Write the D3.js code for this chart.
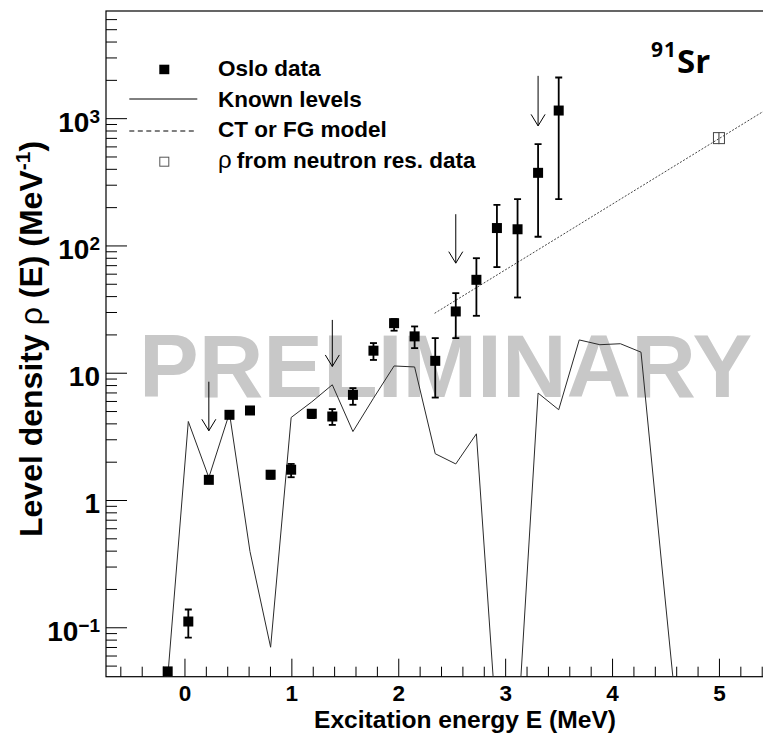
<!DOCTYPE html>
<html>
<head>
<meta charset="utf-8">
<script src="https://cdn.jsdelivr.net/npm/d3@7"></script>
<style>
  html, body { margin: 0; padding: 0; background: #fff; }
  svg { display: block; }
  text { font-family: "Liberation Sans", Arial, Helvetica, sans-serif; font-weight: bold; fill: #000; }
</style>
</head>
<body>
<svg id="chart" width="763" height="746"></svg>
<script>
// Excitation energies of the bins (MeV)
const energy = [-0.157, 0.036, 0.228, 0.421, 0.613, 0.806, 0.998, 1.191, 1.383, 1.576,
                1.768, 1.961, 2.153, 2.346, 2.538, 2.731, 2.923, 3.116, 3.308, 3.501];
// Oslo-method level density with its error band (MeV^-1)
const osloRho  = [0.045, 0.111, 1.44, 4.67, 5.05, 1.58, 1.73, 4.76, 4.53, 6.70,
                  14.9, 24.5, 19.3, 12.4, 30.3, 53.7, 137, 134, 372, 1148];
const osloLow  = [0.045, 0.083, 1.36, 4.50, 4.90, 1.47, 1.51, 4.40, 3.89, 5.60,
                  12.6, 21.4, 15.6, 6.38, 18.7, 28.0, 67.6, 39.0, 117, 231];
const osloHigh = [0.045, 0.138, 1.53, 4.85, 5.20, 1.66, 1.92, 5.05, 5.18, 7.57,
                  17.1, 26.4, 23.1, 18.7, 42.2, 79.4, 208, 231, 625, 2086];

// Density of known discrete levels
const levelE   = [-0.157, 0.036, 0.228, 0.421, 0.613, 0.806, 0.998, 1.191, 1.383, 1.576,
                  1.768, 1.961, 2.153, 2.346, 2.538, 2.731, 2.923, 3.116, 3.308, 3.501,
                  3.693, 3.886, 4.078, 4.271, 4.463, 4.656];
const levelRho = [0.040, 4.14, 1.50, 4.82, 0.394, 0.0697, 4.45, 5.9, 8.04, 3.45,
                  6.3, 11.3, 11.1, 2.31, 1.92, 3.31, 0.015, 0.015, 6.92, 5.12,
                  18.1, 16.6, 16.9, 14.5, 0.32, 0.0075];

// Constant-temperature / Fermi-gas interpolation
const ctE   = [2.34, 5.5];
const ctRho = [29.3, 1250];

// Level density at the neutron separation energy
const neutronE    = [5.0];
const neutronRho  = [697];
const neutronLow  = [625];
const neutronHigh = [775];

// Arrows marking the normalisation regions
const arrowE    = [0.228, 1.383, 2.538, 3.308];
const arrowFrom = [8.5, 26, 176, 2150];
const arrowTo   = [3.5, 11.2, 72.6, 870];

// Axis ticks
const xTicks = [0, 1, 2, 3, 4, 5];
const yTicks = [0.1, 1, 10, 100, 1000];
const yTickBase = ["10", "1", "10", "10", "10"];
const yTickExp  = ["\u22121", "", "", "2", "3"];

const legendLabels = ["Oslo data", "Known levels", "CT or FG model", "from neutron res. data"];

const svg = d3.select("#chart");
const L = 106, R = 772.4, T = 11, B = 676.7;

const x = d3.scaleLinear().domain([-0.734, 5.5]).range([L, R]);
const y = d3.scaleLog().domain([0.0409, 6950]).range([B, T]);

svg.append("defs").append("clipPath").attr("id", "plotArea")
  .append("rect").attr("x", L).attr("y", T).attr("width", R - L).attr("height", B - T);

// watermark
svg.append("text")
  .attr("x", 139).attr("y", 397)
  .style("font-size", "89.5px").style("fill", "#c8c8c8")
  .text("PRELIMINARY");

// minor ticks
const xMinor = d3.range(-0.6, 5.45, 0.2).map(v => +v.toFixed(2)).filter(v => Math.abs(v - Math.round(v)) > 1e-6);
svg.append("g").attr("transform", `translate(0,${B})`)
  .call(d3.axisBottom(x).tickValues(xMinor).tickSize(-10).tickSizeOuter(0).tickFormat(""))
  .call(g => g.select(".domain").remove())
  .call(g => g.selectAll("line").attr("stroke", "#000").attr("stroke-width", 1));

const yMinor = [];
[0.01, 0.1, 1, 10, 100, 1000].forEach(d => { for (let k = 2; k <= 9; k++) { const v = d * k; if (v > 0.0409 && v < 6950) yMinor.push(v); } });
svg.append("g").attr("transform", `translate(${L},0)`)
  .call(d3.axisLeft(y).tickValues(yMinor).tickSize(-11).tickSizeOuter(0).tickFormat(""))
  .call(g => g.select(".domain").remove())
  .call(g => g.selectAll("line").attr("stroke", "#000").attr("stroke-width", 1));

// major x axis
svg.append("g").attr("transform", `translate(0,${B})`)
  .call(d3.axisBottom(x).tickValues(xTicks).tickSize(-18).tickSizeOuter(0).tickPadding(8.8).tickFormat(d3.format("d")))
  .call(g => g.select(".domain").remove())
  .call(g => g.selectAll("line").attr("stroke", "#000").attr("stroke-width", 1))
  .call(g => g.selectAll("text").style("font-size", "22.5px").attr("fill", "#000")
    .attr("font-family", null));

// major y axis
const yAxis = svg.append("g").attr("transform", `translate(${L},0)`)
  .call(d3.axisLeft(y).tickValues(yTicks).tickSize(-21).tickSizeOuter(0).tickPadding(6).tickFormat(""))
  .call(g => g.select(".domain").remove())
  .call(g => g.selectAll("line").attr("stroke", "#000").attr("stroke-width", 1));
yAxis.selectAll(".tick text").each(function (d, i) {
  const t = d3.select(this).attr("font-family", null).attr("fill", "#000")
    .style("font-size", "28px").attr("dy", "0.46em");
  t.append("tspan").text(yTickBase[i]);
  if (yTickExp[i]) t.append("tspan").attr("dy", "-0.45em").style("font-size", "19px").text(yTickExp[i]);
});

// frame
svg.append("rect").attr("x", L).attr("y", T).attr("width", R - L).attr("height", B - T)
  .attr("fill", "none").attr("stroke", "#000").attr("stroke-width", 1.2);

const plot = svg.append("g").attr("clip-path", "url(#plotArea)");

// known levels
plot.append("path")
  .datum(levelE.map((e, i) => [e, levelRho[i]]))
  .attr("fill", "none").attr("stroke", "#2a2a2a").attr("stroke-width", 1)
  .attr("d", d3.line().x(d => x(d[0])).y(d => y(d[1])));

// CT / FG model
plot.append("path")
  .datum(ctE.map((e, i) => [e, ctRho[i]]))
  .attr("fill", "none").attr("stroke", "#444").attr("stroke-width", 1)
  .attr("stroke-dasharray", "2,1.6")
  .attr("d", d3.line().x(d => x(d[0])).y(d => y(d[1])));

// Oslo data error bars
const ms = 10, cap = 3.5;
const eb = plot.append("g").attr("stroke", "#000").attr("stroke-width", 1.8);
energy.forEach((e, i) => {
  if (osloHigh[i] > osloLow[i]) {
    eb.append("line").attr("x1", x(e)).attr("x2", x(e)).attr("y1", y(osloLow[i])).attr("y2", y(osloHigh[i]));
    eb.append("line").attr("x1", x(e) - cap).attr("x2", x(e) + cap).attr("y1", y(osloLow[i])).attr("y2", y(osloLow[i]));
    eb.append("line").attr("x1", x(e) - cap).attr("x2", x(e) + cap).attr("y1", y(osloHigh[i])).attr("y2", y(osloHigh[i]));
  }
});
plot.append("g").selectAll("rect").data(energy).join("rect")
  .attr("x", d => x(d) - ms / 2).attr("y", (d, i) => y(osloRho[i]) - ms / 2)
  .attr("width", ms).attr("height", ms).attr("fill", "#000");

// neutron resonance point
neutronE.forEach((e, i) => {
  plot.append("line").attr("x1", x(e)).attr("x2", x(e))
    .attr("y1", y(neutronLow[i])).attr("y2", y(neutronHigh[i])).attr("stroke", "#333").attr("stroke-width", 1);
  plot.append("rect").attr("x", x(e) - 5.5).attr("y", y(neutronRho[i]) - 5.5)
    .attr("width", 11).attr("height", 11).attr("fill", "none")
    .attr("stroke", "#444").attr("stroke-width", 1);
});

// arrows
const ar = plot.append("g").attr("stroke", "#000").attr("stroke-width", 1).attr("fill", "none");
arrowE.forEach((e, i) => {
  const xe = x(e), y0 = y(arrowFrom[i]), y1 = y(arrowTo[i]);
  ar.append("line").attr("x1", xe).attr("x2", xe).attr("y1", y0).attr("y2", y1);
  ar.append("path").attr("d", `M${xe - 7},${y1 - 11.5}L${xe},${y1}L${xe + 7},${y1 - 11.5}`);
});

// legend
const lg = svg.append("g");
const rowY = [76, 106.7, 137.3, 168];
lg.append("rect").attr("x", 159.3).attr("y", 64.7).attr("width", 10).attr("height", 9.5).attr("fill", "#000");
lg.append("line").attr("x1", 129.3).attr("x2", 197.3).attr("y1", 99).attr("y2", 99).attr("stroke", "#000").attr("stroke-width", 1);
lg.append("line").attr("x1", 129.3).attr("x2", 197.3).attr("y1", 131).attr("y2", 131).attr("stroke", "#000").attr("stroke-width", 1).attr("stroke-dasharray", "5,3.5");
lg.append("rect").attr("x", 159.8).attr("y", 157.2).attr("width", 9).attr("height", 9).attr("fill", "none").attr("stroke", "#555").attr("stroke-width", 1);
legendLabels.forEach((s, i) => {
  const t = lg.append("text").attr("x", 218).attr("y", rowY[i]).style("font-size", "22.5px");
  if (i === 3) {
    t.append("tspan").style("font-weight", "normal").style("font-size", "24px").text("\u03c1");
    t.append("tspan").attr("dx", "5").text(s);
  } else t.text(s);
});

// nucleus label
const nuc = svg.append("text").attr("x", 651).attr("y", 73.3)
  .style("font-family", "'Open Sans', sans-serif");
nuc.append("tspan").attr("dy", "-16.6").style("font-size", "21px").style("letter-spacing", "1px").text("91");
nuc.append("tspan").attr("dy", "16.6").style("font-size", "33px").text("Sr");

// axis titles
svg.append("text").attr("x", 314).attr("y", 728).style("font-size", "24.6px")
  .text("Excitation energy E (MeV)");

const yt = svg.append("text").attr("transform", "translate(41.7,537) rotate(-90)")
  .style("font-size", "32px");
yt.append("tspan").text("Level density ");
yt.append("tspan").style("font-weight", "normal").text("\u03c1");
yt.append("tspan").text(" (E) (MeV");
yt.append("tspan").attr("dy", "-12").style("font-size", "21px").text("-1");
yt.append("tspan").attr("dy", "12").text(")");
</script>
</body>
</html>
